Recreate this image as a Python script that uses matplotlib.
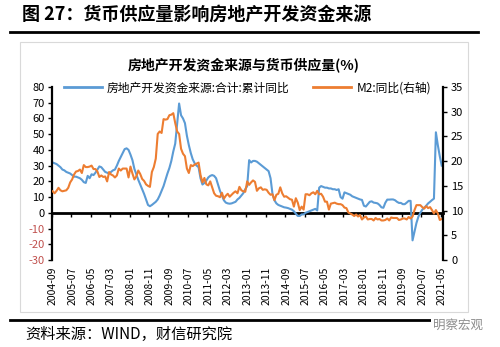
import numpy as np
import matplotlib
matplotlib.use("Agg")
import matplotlib.pyplot as plt
from matplotlib.lines import Line2D
from matplotlib.patches import Rectangle

plt.rcParams['font.family'] = ['Noto Sans CJK SC', 'DejaVu Sans']

# ---- text ----
fig_title = "图 27：货币供应量影响房地产开发资金来源"
chart_title = "房地产开发资金来源与货币供应量(%)"
source_note = "资料来源：WIND，财信研究院"
watermark = "明察宏观"
series_names = ["房地产开发资金来源:合计:累计同比", "M2:同比(右轴)"]

# ---- x axis: monthly, 2004-09 .. 2021-05, a label every 10 months ----
tick_labels = ["2004-09", "2005-07", "2006-05", "2007-03", "2008-01", "2008-11",
               "2009-09", "2010-07", "2011-05", "2012-03", "2013-01", "2013-11",
               "2014-09", "2015-07", "2016-05", "2017-03", "2018-01", "2018-11",
               "2019-09", "2020-07", "2021-05"]

# funds source of real estate development, cumulative yoy (%), left axis
funds_yoy = [
    32, 31.5, 31, 30,                                                  # 2004 Sep-Dec
    29, 27.5, 27, 26, 25.5, 25, 24, 23, 23, 22.5, 22, 21,              # 2005
    19.5, 19, 23.5, 22, 24.5, 24, 25.5, 27.5, 29.5, 29, 27.5, 26,      # 2006
    25.5, 25, 26, 27, 27.5, 30, 33, 35.5, 38, 40.5, 41, 40,            # 2007
    37, 33.5, 28, 24.5, 21, 18, 15, 12, 8.5, 5, 4.2, 5,                # 2008
    6, 7, 8.5, 11, 14, 17, 21, 25, 28.5, 33, 39, 44,                   # 2009
    57, 69.5, 62, 60, 57, 49, 43, 38, 34, 31.5, 30, 29,                # 2010
    22, 18, 19, 20.5, 22.5, 23.5, 24, 23.5, 22, 18, 14, 11,            # 2011
    8, 6.5, 6, 5.8, 6, 6.5, 7, 8.5, 9.5, 11, 12.5, 15,                 # 2012
    17, 33.5, 32, 33, 33, 32.5, 31.5, 30.5, 29.5, 28.5, 27.5, 26.5,    # 2013
    22, 12, 8, 6, 5, 4.5, 4, 3.5, 3.3, 3, 2.5, 2,                      # 2014
    1, -0.5, -2, -2, -1, -1, 0, 0.5, 1, 1.5, 2, 2.5,                   # 2015
    1.5, 16, 17, 16.5, 16, 16, 15.5, 15.5, 15, 15, 14.5, 15,           # 2016
    10, 9, 13, 12.5, 12, 11.5, 10.5, 10, 9.5, 9, 8.5, 8.2,             # 2017
    4.5, 4, 5.5, 7, 7.3, 6.5, 6.3, 6, 5, 3.5, 3.2, 6.4,                # 2018
    8.4, 8.4, 8.5, 8.5, 8, 7, 6.3, 6.3, 5.5, 5.5, 6.5, 7.6,            # 2019
    7.6, -17.5, -12, -6.5, -2.5, 0, 2, 3.2, 4.5, 6, 7, 8.1,            # 2020
    9, 51.2, 43, 36, 30,                                               # 2021 Jan-May
]

# M2 yoy (%), right axis
m2_yoy = [
    13.9, 13.5, 14.0, 14.6,
    14.1, 13.9, 14.0, 14.1, 14.6, 15.7, 16.3, 17.3, 17.9, 18.0, 18.3, 17.6,
    19.2, 18.8, 18.8, 18.9, 19.1, 18.4, 18.4, 17.9, 16.8, 17.1, 16.8, 16.9,
    15.9, 17.8, 17.3, 17.1, 16.7, 17.1, 18.5, 18.1, 18.5, 18.5, 18.5, 16.7,
    18.9, 17.5, 16.3, 16.9, 18.1, 17.4, 16.4, 16.0, 15.3, 15.0, 14.8, 17.8,
    18.8, 20.5, 25.5, 26.0, 25.7, 28.5, 28.4, 28.5, 29.3, 29.4, 29.7, 27.7,
    26.0, 25.5, 22.5, 21.5, 21.0, 18.5, 17.6, 19.2, 19.0, 19.3, 19.5, 19.7,
    17.2, 15.7, 16.6, 15.3, 15.1, 15.9, 14.7, 13.5, 13.0, 12.9, 12.7, 13.6,
    12.4, 13.0, 13.4, 12.8, 13.2, 13.6, 13.9, 13.5, 14.8, 14.1, 13.9, 13.8,
    15.9, 15.2, 15.7, 16.1, 15.8, 14.0, 14.5, 14.7, 14.2, 14.3, 14.2, 13.6,
    13.2, 13.3, 12.1, 13.2, 13.4, 14.7, 13.5, 12.8, 12.9, 12.6, 12.3, 12.2,
    10.8, 12.5, 11.6, 10.1, 10.8, 10.2, 13.3, 13.3, 13.1, 13.5, 13.7, 13.3,
    14.0, 13.3, 13.4, 12.8, 11.8, 11.8, 10.2, 11.4, 11.5, 11.6, 11.4, 11.3,
    11.3, 11.1, 10.6, 10.5, 9.6, 9.4, 9.2, 8.9, 9.2, 8.8, 9.1, 8.2,
    8.6, 8.8, 8.2, 8.3, 8.3, 8.0, 8.5, 8.2, 8.3, 8.0, 8.0, 8.1,
    8.4, 8.0, 8.6, 8.5, 8.5, 8.5, 8.1, 8.2, 8.4, 8.4, 8.2, 8.7,
    8.4, 8.8, 10.1, 11.1, 11.1, 11.1, 10.7, 10.4, 10.9, 10.5, 10.7, 10.1,
    9.4, 10.1, 9.4, 8.1, 8.3,
]

left_ticks = list(range(-30, 81, 10))
right_ticks = list(range(0, 36, 5))

BLUE = "#5B9BD5"
ORANGE = "#ED7D31"
NEG_RED = "#C0504D"

fig = plt.figure(figsize=(5, 3.47), dpi=100)

# page furniture: heading, rules, chart frame
fig.text(0.044, 0.957, fig_title, fontsize=13, fontweight="bold", va="center")
fig.add_artist(Line2D([0.02, 0.956], [0.908, 0.908], transform=fig.transFigure,
                      color="black", lw=2))
fig.add_artist(Rectangle((0.04, 0.1017), 0.896, 0.778, transform=fig.transFigure,
                         fill=False, edgecolor="#D9D9D9", lw=0.8))
fig.add_artist(Line2D([0.02, 0.956], [0.078, 0.078], transform=fig.transFigure,
                      color="black", lw=2))
fig.text(0.05, 0.036, source_note, fontsize=11, style="italic", va="center")
fig.text(0.966, 0.062, watermark, ha="right", va="center", fontsize=9,
         color="#8c8c8c", bbox=dict(fc="white", ec="none", pad=1.5))
fig.text(0.488, 0.8127, chart_title, ha="center", va="center",
         fontsize=10, fontweight="bold")

ax = fig.add_axes([0.1034, 0.2507, 0.782, 0.4986])
ax2 = ax.twinx()

x = np.arange(len(funds_yoy))
ax.plot(x, funds_yoy, color=BLUE, lw=1.5)
ax2.plot(x, m2_yoy, color=ORANGE, lw=1.5)

ax.set_xlim(-0.5, len(x) - 0.5)
ax.set_ylim(-30, 80)
ax2.set_ylim(0, 35)

ax.set_yticks(left_ticks)
ax.set_yticklabels([str(v) for v in left_ticks])
for lab, v in zip(ax.get_yticklabels(), left_ticks):
    if v < 0:
        lab.set_color(NEG_RED)
ax2.set_yticks(right_ticks)

ax.set_xticks(np.arange(0, len(x), 10))
ax.set_xticklabels(tick_labels, rotation=90, fontsize=7.5)
ax.tick_params(axis="x", length=0, pad=5)
ax.tick_params(axis="y", direction="out", length=3, width=1, labelsize=8, pad=2)
ax2.tick_params(axis="y", direction="out", length=3, width=1, labelsize=8, pad=3)

for s in ["top", "bottom", "right"]:
    ax.spines[s].set_visible(False)
for s in ["top", "bottom", "left"]:
    ax2.spines[s].set_visible(False)
ax.spines["left"].set_linewidth(1.6)
ax2.spines["right"].set_linewidth(1.6)

# category axis crossing at zero, tick marks between categories
zero_ax = ax.secondary_xaxis(0, transform=ax.transData)
zero_ax.set_xticks(np.arange(-0.5, len(x), 10))
zero_ax.tick_params(direction="out", length=3, width=1, labelbottom=False)
zero_ax.spines["bottom"].set_linewidth(2)

handles = [Line2D([], [], color=BLUE, lw=2), Line2D([], [], color=ORANGE, lw=2)]
fig.legend(handles, series_names, loc="center left", bbox_to_anchor=(0.128, 0.7464),
           ncol=2, frameon=False, fontsize=8.5, handlelength=3.2, handletextpad=0.45,
           columnspacing=2.0, borderpad=0, borderaxespad=0)

fig.savefig("out.png", dpi=100)
